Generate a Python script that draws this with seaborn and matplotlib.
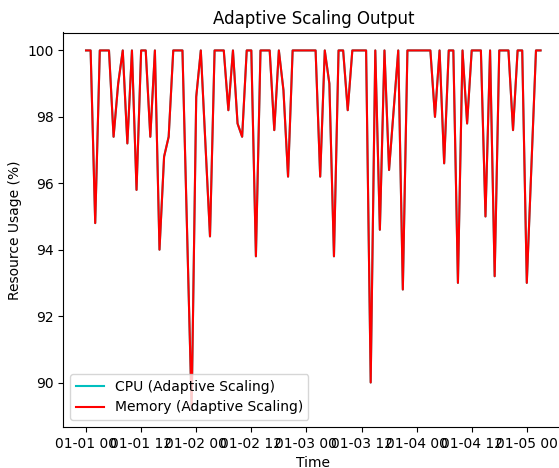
import pandas as pd
import matplotlib
matplotlib.use('Agg')
import matplotlib.pyplot as plt
import matplotlib.dates as mdates
import seaborn as sns

# Hourly readings
start_time = '2024-01-01 00:00'
n_hours = 100

memory_usage = [
    100, 100, 94.8, 100, 100, 100, 97.4, 99.0, 100, 97.2,
    100, 95.8, 100, 100, 97.4, 100, 94.0, 96.8, 97.4, 100,
    100, 100, 94.6, 89.2, 98.6, 100, 97.2, 94.4, 100, 100,
    100, 98.2, 100, 97.8, 97.4, 100, 100, 93.8, 100, 100,
    100, 97.6, 100, 98.8, 96.2, 100, 100, 100, 100, 100,
    100, 96.2, 100, 99.0, 93.8, 100, 100, 98.2, 100, 100,
    100, 100, 90.0, 100, 94.6, 100, 96.4, 98.2, 100, 92.8,
    100, 100, 100, 100, 100, 100, 98.0, 100, 96.6, 100,
    100, 93.0, 100, 97.8, 100, 100, 100, 95.0, 100, 93.2,
    100, 100, 100, 97.6, 100, 100, 93.0, 96.5, 100, 100,
]
# CPU line sits exactly under the memory line (no cyan visible in the chart)
cpu_usage = list(memory_usage)

df = pd.DataFrame({
    'Time': pd.date_range(start_time, periods=n_hours, freq='h'),
    'CPU': cpu_usage,
    'Memory': memory_usage,
})

fig = plt.figure(figsize=(5.59, 4.68), dpi=100)
ax = fig.add_axes([63.3 / 559, 41 / 468, 500 / 559, 394.5 / 468])

sns.lineplot(data=df, x='Time', y='CPU', color='c', label='CPU (Adaptive Scaling)', ax=ax)
sns.lineplot(data=df, x='Time', y='Memory', color='r', label='Memory (Adaptive Scaling)', ax=ax)

ax.xaxis.set_major_locator(mdates.HourLocator(byhour=[0, 12]))
ax.xaxis.set_major_formatter(mdates.DateFormatter('%m-%d %H'))

ax.set_title('Adaptive Scaling Output')
ax.set_xlabel('Time')
ax.set_ylabel('Resource Usage (%)')
ax.legend(loc='lower left')

fig.savefig('out.png', dpi=100)
